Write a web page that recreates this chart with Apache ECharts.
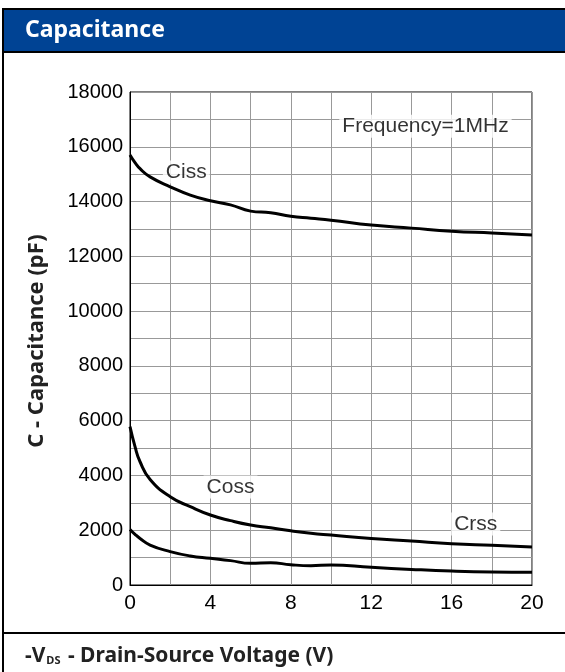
<!DOCTYPE html>
<html>
<head>
<meta charset="utf-8">
<script src="https://cdn.jsdelivr.net/npm/echarts@6/dist/echarts.min.js"></script>
<style>
html,body{margin:0;padding:0;background:#fff;}
#c{width:565px;height:672px;}
</style>
</head>
<body>
<div id="c"></div>
<script>
// Data (V, pF)
const voltages = [0, 0.25, 0.5, 1, 2, 3, 4, 5, 6, 7, 8, 9, 10, 12, 14, 16, 18, 20];
const ciss = [15700, 15420, 15200, 14900, 14540, 14235, 14030, 13880, 13650, 13590, 13460, 13390, 13320, 13140, 13030, 12920, 12850, 12780];
const coss = [5780, 5050, 4500, 3850, 3220, 2860, 2555, 2350, 2190, 2090, 1980, 1890, 1825, 1700, 1606, 1510, 1450, 1390];
const crss = [2030, 1850, 1700, 1460, 1220, 1060, 975, 890, 790, 815, 740, 705, 730, 645, 570, 510, 475, 465];
const xTicks = [0, 4, 8, 12, 16, 20];
const yTicks = [0, 2000, 4000, 6000, 8000, 10000, 12000, 14000, 16000, 18000];
const labels = [
  {name: 'Ciss', x: 2.8, y: 15080},
  {name: 'Coss', x: 5.0, y: 3580},
  {name: 'Crss', x: 17.2, y: 2230},
  {name: 'Frequency=1MHz', x: 14.7, y: 16750}
];

function pts(arr){ return voltages.map((v,i)=>[v, arr[i]]); }

const chart = echarts.init(document.getElementById('c'), null, {renderer:'canvas'});
const lineStyle = {color:'#000', width:3};
const option = {
  animation:false,
  backgroundColor:'#fff',
  grid:{left:130, right:33, top:92, bottom:87, show:true, borderColor:'#000', borderWidth:1},
  xAxis:{
    type:'value', min:0, max:20, interval:4,
    axisLine:{show:true, lineStyle:{color:'#000', width:1}},
    axisTick:{show:false},
    axisLabel:{color:'#000', fontFamily:'Liberation Sans', fontSize:21, margin:8,
      formatter:v=>xTicks.includes(v)?String(v):''},
    splitLine:{show:true, lineStyle:{color:'#999', width:1}},
    minorTick:{show:false, splitNumber:2},
    minorSplitLine:{show:true, lineStyle:{color:'#999', width:1}}
  },
  yAxis:{
    type:'value', min:0, max:18000, interval:2000,
    axisLine:{show:true, lineStyle:{color:'#000', width:1}},
    axisTick:{show:false},
    axisLabel:{color:'#000', fontFamily:'Liberation Sans', fontSize:20, margin:7,
      formatter:v=>yTicks.includes(v)?String(v):''},
    splitLine:{show:true, lineStyle:{color:'#999', width:1}},
    minorTick:{show:false, splitNumber:2},
    minorSplitLine:{show:true, lineStyle:{color:'#999', width:1}}
  },
  series:[
    {type:'line', data:pts(ciss), smooth:0.5, symbol:'none', lineStyle:lineStyle, z:3},
    {type:'line', data:pts(coss), smooth:0.5, symbol:'none', lineStyle:lineStyle, z:3},
    {type:'line', data:pts(crss), smooth:0.5, symbol:'none', lineStyle:lineStyle, z:3},
    {type:'scatter', data:labels.map(l=>({value:[l.x,l.y], name:l.name})), symbolSize:0, z:2,
     label:{show:true, position:'inside', formatter:p=>p.name, color:'#000', fontFamily:'Liberation Sans', fontSize:21,
       backgroundColor:'#fff', padding:[1,3]},
     emphasis:{disabled:true}, silent:true}
  ],
  graphic:[
    {type:'rect', shape:{x:2, y:8, width:570, height:45}, style:{fill:'#000'}, z:0},
    {type:'rect', shape:{x:4, y:10, width:570, height:41}, style:{fill:'#004394'}, z:1},
    {type:'text', x:25, y:30, style:{text:'Capacitance', fill:'#fff', font:'bold 23px "Noto Sans"', textVerticalAlign:'middle'}, z:2},
    {type:'rect', shape:{x:2, y:8, width:2, height:670}, style:{fill:'#000'}, z:2},
    {type:'rect', shape:{x:2, y:632, width:570, height:2}, style:{fill:'#000'}, z:2},
    {type:'text', x:37, y:341, rotation:Math.PI/2, style:{text:'C - Capacitance (pF)', fill:'#222', font:'bold 22px "Noto Sans"', textAlign:'center', textVerticalAlign:'middle'}, z:2},
    {type:'text', x:25, y:656, style:{
      text:'{a|-V}{s|DS}{a| - Drain-Source Voltage (V)}',
      rich:{a:{fill:'#222', font:'bold 21px "Noto Sans"'}, s:{fill:'#222', font:'bold 11px "Noto Sans"', padding:[10,2,0,1]}},
      textVerticalAlign:'middle'}, z:2}
  ]
};
chart.setOption(option);
</script>
</body>
</html>
